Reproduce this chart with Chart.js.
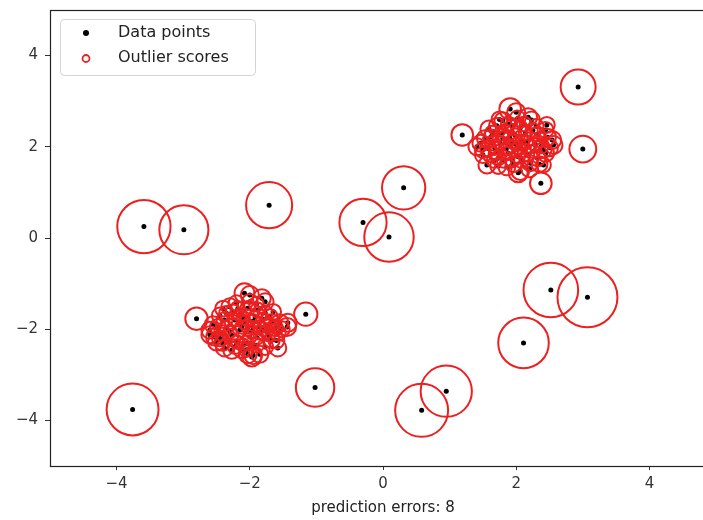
<!DOCTYPE html>
<html>
<head>
<meta charset="utf-8">
<script src="https://cdn.jsdelivr.net/npm/chart.js@4.4.0/dist/chart.umd.min.js"></script>
<style>
  html, body { margin: 0; padding: 0; background: #fff; overflow: hidden; }
  canvas { display: block; }
</style>
</head>
<body>
<canvas id="lofChart" width="716" height="520"></canvas>
<script>
// inlier cluster around (2, 2)
const upperX = [1.91, 2.00, 2.18, 2.23, 1.80, 1.59, 1.71, 2.46, 1.95, 2.06, 2.32, 2.47, 2.54, 2.56, 1.41, 1.50, 1.65, 1.80, 1.94, 1.91,
                2.09, 2.18, 2.41, 2.44, 1.50, 1.61, 1.73, 1.86, 1.73, 1.56, 2.03, 2.06, 2.21, 2.32, 1.88, 2.03, 2.14, 1.83, 2.29, 1.68,
                1.98, 1.76, 2.36, 1.53, 2.17, 1.94, 2.44, 2.41, 2.04, 1.62, 2.26, 1.85, 2.12, 1.67, 2.30, 1.47,
                1.78, 2.00, 2.12, 1.90, 2.22, 1.70, 2.08, 1.96, 2.25, 1.58, 2.38, 1.82, 2.15, 2.02, 1.75, 2.35, 1.64, 2.50, 1.88, 2.20];
const upperY = [2.83, 2.76, 2.65, 2.59, 2.57, 2.39, 2.46, 2.48, 2.46, 2.41, 2.28, 2.21, 2.15, 2.04, 2.00, 1.93, 2.08, 2.19, 2.11, 2.02,
                2.11, 2.02, 1.93, 1.86, 1.82, 1.84, 1.75, 1.56, 1.58, 1.60, 1.43, 1.47, 1.64, 1.75, 1.86, 1.78, 2.30, 2.35, 2.04, 1.97,
                2.26, 2.08, 2.15, 2.19, 1.82, 1.71, 2.37, 1.60, 1.96, 2.22, 1.90, 1.95, 2.50, 1.70, 2.45, 2.08,
                2.30, 2.05, 1.92, 2.20, 2.18, 1.88, 1.70, 1.62, 2.36, 1.96, 2.02, 1.70, 2.10, 2.62, 2.60, 1.62, 2.30, 1.98, 2.50, 1.52];
const upperScore = [.13, .09, .09, .08, .08, .08, .07, .07, .06, .06, .06, .08, .09, .09, .08, .07, .06, .05, .05, .05,
                    .05, .05, .07, .08, .07, .07, .06, .08, .07, .08, .10, .09, .07, .07, .05, .05, .05, .05, .05, .05,
                    .05, .05, .06, .07, .05, .06, .07, .06, .05, .06, .05, .05, .06, .06, .06, .08,
                    .06, .05, .05, .05, .05, .06, .06, .07, .06, .07, .06, .06, .05, .07, .07, .07, .06, .08, .06, .08];

// inlier cluster around (-2, -2)
const lowerX = [-2.08, -2.00, -1.82, -1.77, -2.30, -2.20, -2.03, -1.88, -1.70, -1.67, -2.15, -2.38, -2.60, -2.53, -2.42, -2.08, -2.03, -1.95, -1.85, -1.73,
                -1.55, -1.44, -1.43, -1.58, -2.27, -2.20, -2.41, -2.38, -2.27, -2.12, -1.97, -1.95, -1.77, -1.67, -1.58, -1.89, -2.00, -1.85, -2.15, -2.48,
                -2.23, -1.92, -1.77, -2.50, -2.35, -2.10, -1.80, -2.60, -1.98, -2.25, -1.62, -2.05, -1.90, -2.45, -1.72,
                -2.12, -1.95, -2.30, -1.80, -2.05, -2.35, -1.60, -2.18, -1.90, -2.45, -1.75, -2.00, -2.22, -1.52, -2.55, -1.85, -2.10, -1.65, -2.40, -2.03];
const lowerY = [-1.21, -1.25, -1.32, -1.40, -1.51, -1.43, -1.54, -1.58, -1.73, -1.84, -1.69, -1.80, -2.02, -2.17, -2.08, -1.86, -1.95, -1.97, -1.95, -1.91,
                -1.86, -1.95, -1.86, -2.08, -2.13, -2.28, -2.30, -2.41, -2.46, -2.46, -2.61, -2.57, -2.39, -2.24, -2.41, -2.19, -2.17, -2.08, -2.02, -1.95,
                -1.80, -1.73, -1.64, -2.28, -1.97, -2.35, -2.00, -2.12, -2.05, -1.62, -1.98, -2.45, -1.45, -1.70, -2.12,
                -1.95, -1.82, -2.05, -1.78, -2.30, -1.65, -2.25, -1.55, -2.35, -2.20, -2.05, -1.40, -2.38, -2.00, -1.90, -2.55, -1.75, -1.62, -1.55, -2.55];
const lowerScore = [.11, .09, .09, .08, .08, .07, .06, .06, .07, .07, .05, .07, .08, .08, .07, .05, .05, .05, .05, .06,
                    .08, .09, .09, .07, .05, .05, .07, .08, .08, .07, .10, .09, .07, .07, .08, .05, .05, .05, .05, .07,
                    .05, .05, .06, .08, .05, .05, .05, .08, .05, .06, .07, .06, .06, .07, .05,
                    .05, .05, .05, .05, .06, .06, .07, .06, .06, .07, .05, .07, .06, .07, .08, .08, .05, .07, .07, .09];

// scattered outliers
const outlierX = [-3.59, -2.99, -1.71, -0.30, 0.09, 0.31, 2.93, 3.00, 1.19, 2.37, -3.76, -1.02, 0.95, 0.58, 2.11, 2.52, 3.07, -1.16, -2.80];
const outlierY = [0.25, 0.18, 0.72, 0.34, 0.02, 1.10, 3.31, 1.95, 2.26, 1.20, -3.76, -3.28, -3.36, -3.78, -2.30, -1.14, -1.30, -1.67, -1.77];
const outlierScore = [0.79, 0.67, 0.59, 0.62, 0.68, 0.52, 0.34, 0.20, 0.13, 0.13, 0.75, 0.41, 0.73, 0.78, 0.71, 0.83, 1.00, 0.15, 0.14];

const xTicks = [-4, -2, 0, 2, 4];
const yTicks = [-4, -2, 0, 2, 4];
const xLabel = 'prediction errors: 8';

const allX = upperX.concat(lowerX, outlierX);
const allY = upperY.concat(lowerY, outlierY);
const allScore = upperScore.concat(lowerScore, outlierScore);
const points = allX.map((x, i) => ({ x: x, y: allY[i] }));

const FONT = 'DejaVu Sans';
const RED = 'rgb(236, 32, 32)';
const fmt = v => (v < 0 ? '\u2212' + Math.abs(v) : String(v));

// frame round the plot (matplotlib style spines)
const framePlugin = {
    id: 'frame',
    afterDraw(chart) {
        const a = chart.chartArea, c = chart.ctx;
        c.save();
        c.strokeStyle = '#222';
        c.lineWidth = 1.2;
        c.strokeRect(a.left + 0.5, a.top + 0.5, a.right - a.left, a.bottom - a.top);
        c.restore();
    }
};

// legend box drawn inside the axes, upper left
const legendPlugin = {
    id: 'boxLegend',
    afterDraw(chart) {
        const c = chart.ctx;
        const ds = chart.data.datasets;
        c.save();
        c.beginPath();
        c.roundRect(60.5, 19.5, 195, 56, 4);
        c.fillStyle = 'rgba(255,255,255,0.85)';
        c.fill();
        c.strokeStyle = '#d4d4d4';
        c.lineWidth = 1;
        c.stroke();
        c.font = '16px "' + FONT + '"';
        c.textBaseline = 'middle';
        // data points entry
        c.beginPath();
        c.arc(86, 33, 3, 0, Math.PI * 2);
        c.fillStyle = ds[0].backgroundColor;
        c.fill();
        c.fillStyle = '#222';
        c.fillText(ds[0].label, 118, 33);
        // outlier scores entry
        c.beginPath();
        c.arc(86, 58.5, 3.5, 0, Math.PI * 2);
        c.strokeStyle = ds[1].borderColor;
        c.lineWidth = 1.8;
        c.stroke();
        c.fillText(ds[1].label, 118, 58);
        c.restore();
    }
};

const noEdgePad = s => { s.paddingTop = 0; s.paddingBottom = 0; s.paddingLeft = 0; s.paddingRight = 0; };

const ctx = document.getElementById('lofChart');
new Chart(ctx, {
    type: 'scatter',
    data: {
        datasets: [{
            label: 'Data points',
            data: points,
            backgroundColor: '#000',
            borderWidth: 0,
            pointRadius: 2.5,
            order: 2
        }, {
            label: 'Outlier scores',
            data: points,
            backgroundColor: 'rgba(0,0,0,0)',
            borderColor: RED,
            borderWidth: 2,
            pointRadius: allScore.map(s => 30 * Math.sqrt(s)),
            order: 1
        }]
    },
    plugins: [framePlugin, legendPlugin],
    options: {
        responsive: false,
        animation: false,
        events: [],
        layout: { autoPadding: false, padding: { top: 10, right: 0, bottom: 0, left: 0 } },
        plugins: {
            legend: { display: false },
            tooltip: { enabled: false }
        },
        scales: {
            x: {
                type: 'linear',
                min: -5,
                max: 5,
                afterBuildTicks: s => { s.ticks = xTicks.map(v => ({ value: v })); },
                afterFit: s => { s.height = 54; noEdgePad(s); },
                border: { display: false },
                grid: { display: true, drawOnChartArea: false, drawTicks: true, tickLength: 4, color: '#333' },
                ticks: {
                    color: '#333',
                    padding: 5,
                    maxRotation: 0,
                    font: { family: FONT, size: 15 },
                    callback: v => fmt(v)
                },
                title: {
                    display: true,
                    text: xLabel,
                    color: '#222',
                    font: { family: FONT, size: 15 },
                    padding: { top: 2, bottom: 3 }
                }
            },
            y: {
                type: 'linear',
                min: -5,
                max: 5,
                afterBuildTicks: s => { s.ticks = yTicks.map(v => ({ value: v })); },
                afterFit: s => { s.width = 50; noEdgePad(s); },
                border: { display: false },
                grid: { display: true, drawOnChartArea: false, drawTicks: true, tickLength: 5, color: '#333' },
                ticks: {
                    color: '#333',
                    padding: 7,
                    font: { family: FONT, size: 15 },
                    callback: v => fmt(v)
                }
            }
        }
    }
});
</script>
</body>
</html>
